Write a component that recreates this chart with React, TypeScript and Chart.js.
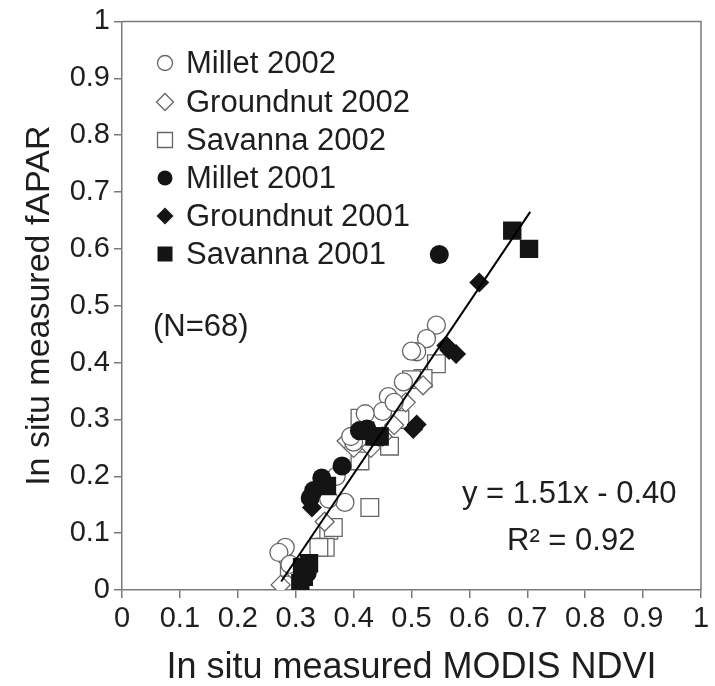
import React, { useEffect, useRef } from 'react';
import { Chart, registerables } from 'chart.js';

Chart.register(...registerables);

// ---- data ----
const millet2002X = [0.543, 0.526, 0.509, 0.486, 0.46, 0.45, 0.4, 0.385, 0.357, 0.282, 0.271, 0.29, 0.37, 0.42, 0.5, 0.47, 0.395];
const millet2002Y = [0.466, 0.442, 0.419, 0.366, 0.34, 0.314, 0.26, 0.154, 0.16, 0.075, 0.066, 0.045, 0.2, 0.31, 0.42, 0.33, 0.27];

const groundnut2002X = [0.388, 0.4, 0.285, 0.274, 0.3, 0.43, 0.47, 0.49, 0.52, 0.45, 0.35];
const groundnut2002Y = [0.262, 0.25, 0.052, 0.009, 0.03, 0.25, 0.29, 0.33, 0.36, 0.27, 0.12];

const savanna2002X = [0.543, 0.52, 0.411, 0.462, 0.411, 0.428, 0.357, 0.351, 0.34, 0.289, 0.48, 0.5, 0.365];
const savanna2002Y = [0.398, 0.372, 0.302, 0.253, 0.227, 0.145, 0.105, 0.075, 0.075, 0.04, 0.3, 0.37, 0.11];

const millet2001X = [0.548, 0.423, 0.38, 0.345, 0.331, 0.325, 0.41, 0.32, 0.31];
const millet2001Y = [0.59, 0.283, 0.218, 0.197, 0.175, 0.162, 0.28, 0.03, 0.02];

const groundnut2001X = [0.617, 0.565, 0.577, 0.509, 0.503, 0.328, 0.56, 0.315];
const groundnut2001Y = [0.541, 0.422, 0.415, 0.291, 0.283, 0.145, 0.43, 0.03];

const savanna2001X = [0.674, 0.703, 0.436, 0.445, 0.354, 0.311, 0.314, 0.308, 0.323, 0.42];
const savanna2001Y = [0.632, 0.6, 0.27, 0.27, 0.183, 0.04, 0.023, 0.012, 0.047, 0.28];

const fitX = [0.275, 0.705];
const fitY = [0.015, 0.665];

const tickLabels = ['0', '0.1', '0.2', '0.3', '0.4', '0.5', '0.6', '0.7', '0.8', '0.9', '1'];

const legendLabels = ['Millet 2002', 'Groundnut 2002', 'Savanna 2002', 'Millet 2001', 'Groundnut 2001', 'Savanna 2001'];
const noteText = '(N=68)';
const equationText = 'y = 1.51x - 0.40';
const r2Text = 'R² = 0.92';
const xTitle = 'In situ measured MODIS NDVI';
const yTitle = 'In situ measured fAPAR';

// ---- styles ----
const FONT = "'Liberation Sans', Arial, sans-serif";
const TEXT = '#1e1e1e';
const AXIS = '#7a7a7a';
const OPEN_EDGE = '#666666';
const FILL = '#141414';

const pts = (xs: number[], ys: number[]) => xs.map((x, i) => ({ x, y: ys[i] }));

type Marker = 'circle' | 'rectRot' | 'rect';

function drawMarker(ctx: CanvasRenderingContext2D, kind: Marker, open: boolean, x: number, y: number, s: number) {
  ctx.beginPath();
  if (kind === 'circle') {
    ctx.arc(x, y, s, 0, Math.PI * 2);
  } else if (kind === 'rectRot') {
    ctx.moveTo(x, y - s);
    ctx.lineTo(x + s, y);
    ctx.lineTo(x, y + s);
    ctx.lineTo(x - s, y);
    ctx.closePath();
  } else {
    ctx.rect(x - s, y - s, 2 * s, 2 * s);
  }
  if (open) {
    ctx.fillStyle = '#ffffff';
    ctx.fill();
    ctx.strokeStyle = OPEN_EDGE;
    ctx.lineWidth = 1.3;
    ctx.stroke();
  } else {
    ctx.fillStyle = FILL;
    ctx.fill();
  }
}

const overlayPlugin = {
  id: 'overlay',
  afterDraw(chart: any) {
    const { ctx, chartArea: a } = chart;
    ctx.save();
    // top and right frame
    ctx.strokeStyle = AXIS;
    ctx.lineWidth = 1.5;
    ctx.beginPath();
    ctx.moveTo(a.left, a.top);
    ctx.lineTo(a.right, a.top);
    ctx.lineTo(a.right, a.bottom);
    ctx.stroke();

    // legend
    const kinds: Marker[] = ['circle', 'rectRot', 'rect', 'circle', 'rectRot', 'rect'];
    const sizes = [7.5, 8.5, 7.5, 7.5, 8.5, 7.5];
    const rows = [63, 102, 140, 178, 216, 254];
    ctx.font = `31px ${FONT}`;
    ctx.textBaseline = 'middle';
    ctx.textAlign = 'left';
    legendLabels.forEach((lab, i) => {
      drawMarker(ctx, kinds[i], i < 3, 165, rows[i], sizes[i]);
      ctx.fillStyle = TEXT;
      ctx.fillText(lab, 186, rows[i] + 1);
    });
    ctx.fillStyle = TEXT;
    ctx.fillText(noteText, 153, 327);

    // equation
    ctx.font = `31px ${FONT}`;
    ctx.fillText(equationText, 462, 494);
    ctx.fillText(r2Text, 507, 541);
    ctx.restore();
  },
};

export default function App() {
  const ref = useRef<HTMLCanvasElement | null>(null);

  useEffect(() => {
    if (!ref.current) return;
    const openStyle = { backgroundColor: '#ffffff', borderColor: OPEN_EDGE, borderWidth: 1.3 };
    const fillStyle = { backgroundColor: FILL, borderColor: FILL, borderWidth: 0 };
    const chart = new Chart(ref.current, {
      type: 'scatter',
      data: {
        datasets: [
          {
            type: 'line',
            label: 'fit',
            data: pts(fitX, fitY),
            borderColor: '#000000',
            borderWidth: 2,
            pointRadius: 0,
            fill: false,
            order: 0,
          } as any,
          { label: legendLabels[0], data: pts(millet2002X, millet2002Y), pointStyle: 'circle', pointRadius: 9, order: 3, ...openStyle },
          { label: legendLabels[1], data: pts(groundnut2002X, groundnut2002Y), pointStyle: 'rectRot', pointRadius: 9.5, order: 3, ...openStyle },
          { label: legendLabels[2], data: pts(savanna2002X, savanna2002Y), pointStyle: 'rect', pointRadius: 12.5, order: 3, ...openStyle },
          { label: legendLabels[3], data: pts(millet2001X, millet2001Y), pointStyle: 'circle', pointRadius: 9.5, order: 1, ...fillStyle },
          { label: legendLabels[4], data: pts(groundnut2001X, groundnut2001Y), pointStyle: 'rectRot', pointRadius: 10, order: 1, ...fillStyle },
          { label: legendLabels[5], data: pts(savanna2001X, savanna2001Y), pointStyle: 'rect', pointRadius: 13, order: 1, ...fillStyle },
        ],
      },
      options: {
        animation: false,
        responsive: false,
        maintainAspectRatio: false,
        layout: { padding: { left: 0, right: 14, top: 18, bottom: 0 } },
        plugins: {
          legend: { display: false },
          tooltip: { enabled: false },
          title: { display: false },
        },
        scales: {
          x: {
            type: 'linear',
            min: 0,
            max: 1,
            afterFit: (s: any) => { s.height = 96; },
            ticks: {
              stepSize: 0.1,
              autoSkip: false,
              maxRotation: 0,
              padding: 4,
              color: TEXT,
              font: { family: FONT, size: 29 },
              callback: (_v: any, i: number) => tickLabels[i],
            },
            grid: { display: true, drawOnChartArea: false, drawTicks: true, tickLength: 8, color: AXIS, lineWidth: 1.5 },
            border: { display: true, color: AXIS, width: 1.5 },
            title: { display: true, text: xTitle, color: TEXT, font: { family: FONT, size: 36, lineHeight: 1 }, padding: { top: 0, bottom: 0 } },
          },
          y: {
            type: 'linear',
            min: 0,
            max: 1,
            afterFit: (s: any) => { s.width = 122; },
            ticks: {
              stepSize: 0.1,
              autoSkip: false,
              padding: 4,
              color: TEXT,
              font: { family: FONT, size: 29 },
              callback: (_v: any, i: number) => tickLabels[i],
            },
            grid: { display: true, drawOnChartArea: false, drawTicks: true, tickLength: 8, color: AXIS, lineWidth: 1.5 },
            border: { display: true, color: AXIS, width: 1.5 },
            title: { display: true, text: yTitle, color: TEXT, font: { family: FONT, size: 34, lineHeight: 1 }, padding: { top: 23, bottom: 0 } },
          },
        },
      },
      plugins: [overlayPlugin],
    } as any);
    return () => chart.destroy();
  }, []);

  return (
    <div style={{ position: 'fixed', left: 0, top: 0, width: 715, height: 686, background: '#ffffff' }}>
      <canvas ref={ref} width={715} height={686} style={{ width: 715, height: 686, display: 'block' }} />
    </div>
  );
}
